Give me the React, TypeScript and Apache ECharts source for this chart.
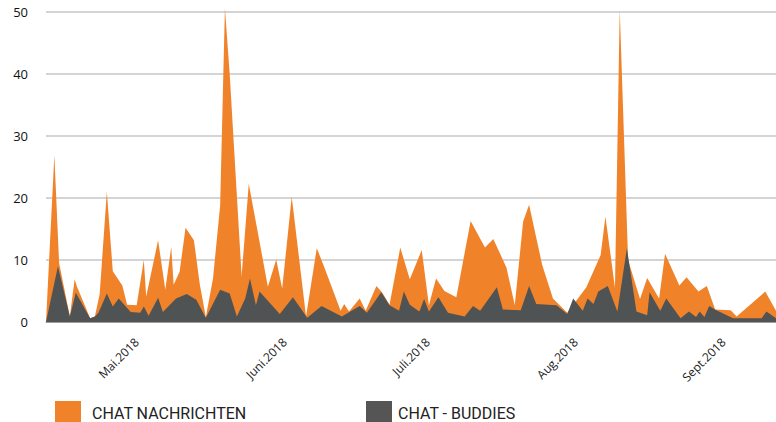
import React, { useEffect, useRef } from "react";
import * as echarts from "echarts";

const seriesNames = ["CHAT NACHRICHTEN", "CHAT - BUDDIES"];
const monthLabels = ["Jan", "Feb", "März", "Apr", "Mai", "Juni", "Juli", "Aug", "Sept", "Okt", "Nov", "Dez"];
const yTicks = [0, 10, 20, 30, 40, 50];
const xRange = ["2018-04-12 00:00", "2018-09-12 00:00"];

const nachrichtenDates = [
  "2018-04-12 00:00", "2018-04-13 18:00", "2018-04-14 18:00", "2018-04-17 00:00", "2018-04-18 00:00",
  "2018-04-18 12:00", "2018-04-21 06:00", "2018-04-22 06:00", "2018-04-23 06:00", "2018-04-24 18:00",
  "2018-04-26 00:00", "2018-04-28 00:00", "2018-04-29 00:00", "2018-05-01 00:00", "2018-05-02 12:00",
  "2018-05-03 00:00", "2018-05-05 12:00", "2018-05-07 00:00", "2018-05-08 06:00", "2018-05-08 18:00",
  "2018-05-10 00:00", "2018-05-11 06:00", "2018-05-13 00:00", "2018-05-14 06:00", "2018-05-15 12:00",
  "2018-05-17 00:00", "2018-05-18 12:00", "2018-05-19 12:00", "2018-05-20 12:00", "2018-05-23 00:00",
  "2018-05-24 12:00", "2018-05-28 12:00", "2018-05-30 06:00", "2018-05-31 12:00", "2018-06-02 12:00",
  "2018-06-05 12:00", "2018-06-07 18:00", "2018-06-09 06:00", "2018-06-12 18:00", "2018-06-13 12:00",
  "2018-06-14 12:00", "2018-06-16 18:00", "2018-06-18 00:00", "2018-06-20 06:00", "2018-06-21 12:00",
  "2018-06-23 00:00", "2018-06-25 06:00", "2018-06-27 06:00", "2018-06-29 18:00", "2018-07-01 06:00",
  "2018-07-02 18:00", "2018-07-04 12:00", "2018-07-07 00:00", "2018-07-10 00:00", "2018-07-13 00:00",
  "2018-07-14 18:00", "2018-07-17 12:00", "2018-07-19 06:00", "2018-07-21 00:00", "2018-07-22 06:00",
  "2018-07-25 00:00", "2018-07-27 06:00", "2018-07-30 06:00", "2018-08-03 06:00", "2018-08-06 06:00",
  "2018-08-07 06:00", "2018-08-09 06:00", "2018-08-10 06:00", "2018-08-12 00:00", "2018-08-14 12:00",
  "2018-08-16 00:00", "2018-08-18 12:00", "2018-08-19 18:00", "2018-08-22 18:00", "2018-08-24 06:00",
  "2018-08-26 18:00", "2018-08-28 12:00", "2018-08-30 06:00", "2018-09-02 12:00", "2018-09-03 18:00",
  "2018-09-09 18:00", "2018-09-12 00:00",
];
const nachrichtenValues = [
  0, 26.9, 9.5, 0.9, 6.9,
  5.7, 0.6, 0.9, 4.5, 21,
  8.2, 5.9, 2.8, 2.7, 10,
  4.1, 13.2, 5.2, 12.1, 6.0,
  8.1, 15.2, 13.2, 6.0, 0.8,
  7.0, 18.8, 50.6, 40, 7.4,
  22.3, 5.7, 10.1, 5.4, 20.2,
  0.9, 11.9, 9.0, 1.8, 2.9,
  1.7, 3.8, 1.8, 5.8, 4.7,
  2.8, 12.0, 6.9, 11.6, 2.7,
  7.0, 5.0, 4.0, 16.3, 12.0,
  13.4, 8.8, 2.7, 16.2, 18.9,
  9.2, 3.8, 1.5, 5.6, 10.8,
  17, 5.5, 50.4, 10, 3.7,
  7.1, 3.8, 11.0, 5.9, 7.2,
  4.9, 5.8, 2.0, 1.9, 0.9,
  4.9, 1.8,
];

const buddiesDates = [
  "2018-04-12 00:00", "2018-04-14 12:00", "2018-04-17 00:00", "2018-04-18 06:00", "2018-04-21 06:00",
  "2018-04-22 06:00", "2018-04-23 00:00", "2018-04-24 18:00", "2018-04-26 00:00", "2018-04-27 06:00",
  "2018-04-29 18:00", "2018-05-01 18:00", "2018-05-02 12:00", "2018-05-03 12:00", "2018-05-05 12:00",
  "2018-05-06 12:00", "2018-05-09 06:00", "2018-05-11 12:00", "2018-05-13 12:00", "2018-05-15 12:00",
  "2018-05-18 12:00", "2018-05-20 12:00", "2018-05-22 00:00", "2018-05-23 18:00", "2018-05-24 18:00",
  "2018-05-26 00:00", "2018-05-26 18:00", "2018-05-31 00:00", "2018-06-02 18:00", "2018-06-05 18:00",
  "2018-06-08 18:00", "2018-06-13 00:00", "2018-06-16 18:00", "2018-06-18 06:00", "2018-06-21 06:00",
  "2018-06-23 00:00", "2018-06-25 00:00", "2018-06-26 00:00", "2018-06-27 06:00", "2018-06-29 06:00",
  "2018-06-30 06:00", "2018-07-01 06:00", "2018-07-03 06:00", "2018-07-05 06:00", "2018-07-08 18:00",
  "2018-07-10 12:00", "2018-07-12 00:00", "2018-07-15 12:00", "2018-07-16 18:00", "2018-07-20 12:00",
  "2018-07-22 06:00", "2018-07-23 18:00", "2018-07-28 00:00", "2018-07-30 06:00", "2018-07-31 12:00",
  "2018-08-02 12:00", "2018-08-03 12:00", "2018-08-04 18:00", "2018-08-05 18:00", "2018-08-07 18:00",
  "2018-08-09 18:00", "2018-08-11 18:00", "2018-08-13 18:00", "2018-08-16 00:00", "2018-08-16 12:00",
  "2018-08-18 18:00", "2018-08-20 00:00", "2018-08-23 00:00", "2018-08-24 18:00", "2018-08-26 06:00",
  "2018-08-27 00:00", "2018-08-28 00:00", "2018-08-29 00:00", "2018-08-30 12:00", "2018-09-03 00:00",
  "2018-09-09 00:00", "2018-09-10 00:00", "2018-09-12 00:00",
];
const buddiesValues = [
  0, 9.0, 0.9, 4.7, 0.6,
  0.9, 1.5, 4.6, 2.5, 3.8,
  1.6, 1.5, 2.5, 1.0, 3.9,
  1.6, 3.8, 4.5, 3.6, 0.7,
  5.2, 4.6, 0.9, 3.8, 7.0,
  2.7, 4.9, 1.3, 4.0, 0.7,
  2.6, 0.9, 2.6, 1.5, 4.8,
  2.7, 1.8, 4.9, 2.8, 1.7,
  3.7, 1.7, 4.0, 1.5, 0.9,
  2.6, 1.8, 5.6, 2.0, 1.9,
  5.8, 2.9, 2.7, 1.3, 3.8,
  1.8, 3.8, 2.9, 4.9, 5.8,
  1.7, 11.9, 1.7, 1.1, 4.8,
  1.8, 3.8, 0.6, 1.7, 0.8,
  1.7, 0.8, 2.6, 1.9, 0.6,
  0.6, 1.7, 0.6,
];

const ORANGE = "#F0832A";
const GREY = "#505354";
const LEGEND_FONT = "Roboto, 'Noto Sans', sans-serif";
const AXIS_FONT = "'Open Sans', 'DejaVu Sans', sans-serif";

export default function App() {
  const ref = useRef<HTMLDivElement>(null);

  useEffect(() => {
    if (!ref.current) return;
    const chart = echarts.init(ref.current, undefined, { renderer: "svg" });
    const toPairs = (d: string[], v: number[]) => d.map((x, i) => [x, v[i]]);
    chart.setOption({
      animation: false,
      backgroundColor: "#ffffff",
      grid: { left: 46, right: 0, top: 12, bottom: 100, containLabel: false },
      legend: [
        {
          left: 50,
          top: 396,
          itemWidth: 26,
          itemHeight: 25,
          icon: "rect",
          data: [{ name: seriesNames[0], itemStyle: { color: ORANGE } }],
          textStyle: { fontFamily: LEGEND_FONT, fontSize: 16, lineHeight: 16, color: "#222", padding: [0, 0, 0, 6] },
        },
        {
          left: 361,
          top: 396,
          itemWidth: 26,
          itemHeight: 25,
          icon: "rect",
          data: [{ name: seriesNames[1], itemStyle: { color: "#555555" } }],
          textStyle: { fontFamily: LEGEND_FONT, fontSize: 16, lineHeight: 16, color: "#222", padding: [0, 0, 0, 1] },
        },
      ],
      xAxis: {
        type: "time",
        min: xRange[0],
        max: xRange[1],
        splitNumber: 5,
        minInterval: 28 * 86400000,
        axisLine: { show: true, lineStyle: { color: "#a59d95", width: 1 } },
        axisTick: { show: false },
        splitLine: { show: false },
        axisLabel: {
          rotate: 45,
          margin: 18,
          showMinLabel: false,
          showMaxLabel: false,
          fontFamily: AXIS_FONT,
          fontSize: 12,
          color: "#222",
          formatter: (val: number) => {
            const d = new Date(val);
            if (d.getDate() !== 1) return "";
            return monthLabels[d.getMonth()] + "." + d.getFullYear();
          },
        },
      },
      yAxis: {
        type: "value",
        min: yTicks[0],
        max: yTicks[yTicks.length - 1],
        interval: yTicks[1] - yTicks[0],
        axisLine: { show: false },
        axisTick: { show: false },
        splitLine: { show: true, lineStyle: { color: "#c6c6c6", width: 1.5 } },
        axisLabel: { margin: 18, fontFamily: AXIS_FONT, fontSize: 13, color: "#111" },
      },
      series: [
        {
          name: seriesNames[0],
          type: "line",
          data: toPairs(nachrichtenDates, nachrichtenValues),
          showSymbol: false,
          symbol: "none",
          clip: false,
          color: ORANGE,
          lineStyle: { width: 0 },
          areaStyle: { color: ORANGE, opacity: 1 },
          z: 2,
        },
        {
          name: seriesNames[1],
          type: "line",
          data: toPairs(buddiesDates, buddiesValues),
          showSymbol: false,
          symbol: "none",
          clip: false,
          color: GREY,
          lineStyle: { width: 0 },
          areaStyle: { color: GREY, opacity: 1 },
          z: 3,
        },
      ],
    });
    return () => chart.dispose();
  }, []);

  return (
    <div
      ref={ref}
      style={{ position: "absolute", left: 0, top: 0, width: 776, height: 422 }}
    />
  );
}
